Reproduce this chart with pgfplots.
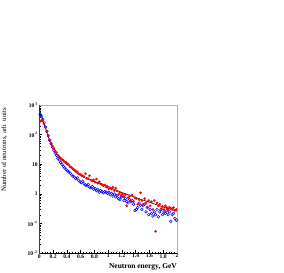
\documentclass[border=0pt]{standalone}
\usepackage{fontspec}
\setmainfont{Liberation Serif}
\usepackage{pgfplots}
\pgfplotsset{compat=1.18}
\begin{document}
\begin{tikzpicture}
\begin{axis}[
  scale only axis,
  width=137.7bp, height=148.3bp,
  ymode=log,
  xmin=0, xmax=2, ymin=0.01, ymax=1000,
  xtick={0,0.2,0.4,0.6,0.8,1,1.2,1.4,1.6,1.8,2},
  xticklabels={0,0.2,0.4,0.6,0.8,1,1.2,1.4,1.6,1.8,2},
  ytick={0.01,0.1,1,10,100,1000},
  yticklabels={10\textsuperscript{\,-2},10\textsuperscript{\,-1},1,10,10\textsuperscript{\,2},10\textsuperscript{\,3}},
  minor x tick num=4,
  tick align=inside,
  xtick pos=bottom, ytick pos=left,
  major tick length=3bp, minor tick length=1.5bp,
  tick style={black, line width=0.4bp},
  axis line style={gray!60, line width=0.9bp},
  ticklabel style={font=\fontsize{5.6}{6.5}\selectfont\bfseries},
  xticklabel style={inner sep=0.8bp},
  yticklabel style={inner sep=1.5bp},
  clip=true,
]
\addplot[only marks, mark=o, mark size=1.35bp, draw=blue, line width=0.5bp] coordinates {
(0.01,480)(0.03,420)(0.05,330)(0.07,250)(0.09,180)(0.11,130)(0.13,92)(0.15,65)(0.17,50)(0.19,38)
(0.21,30)(0.23,24)(0.25,20)(0.27,16)(0.29,14)(0.31,11.5)(0.33,10)(0.35,8.5)(0.37,7.6)(0.39,6.6)
(0.41,6.0)(0.43,5.5)(0.45,5.0)(0.47,4.4)(0.49,4.0)(0.51,3.7)(0.53,3.3)(0.55,3.5)(0.57,2.9)(0.59,2.6)
(0.61,2.4)(0.63,2.7)(0.65,2.2)(0.67,2.0)(0.69,1.9)(0.71,2.1)(0.73,1.7)(0.75,1.6)(0.77,1.8)(0.79,1.45)
(0.81,1.55)(0.83,1.3)(0.85,1.4)(0.87,1.15)(0.89,1.3)(0.91,1.2)(0.93,1.1)(0.95,1.2)(0.97,1.15)(0.99,1.05)
(1.01,1.15)(1.03,0.95)(1.05,1.05)(1.07,0.85)(1.09,1.0)(1.11,0.8)(1.13,0.9)(1.15,0.7)(1.17,0.65)(1.19,0.8)
(1.21,0.85)(1.23,0.6)(1.25,0.7)(1.27,0.55)(1.29,0.5)(1.31,0.65)(1.33,0.55)(1.35,0.6)(1.37,0.45)(1.39,0.28)
(1.41,0.3)(1.43,0.35)(1.45,0.5)(1.47,0.42)(1.49,0.3)(1.51,0.4)(1.53,0.45)(1.55,0.25)(1.57,0.35)(1.59,0.2)
(1.61,0.3)(1.63,0.22)(1.65,0.18)(1.67,0.25)(1.69,0.2)(1.71,0.3)(1.73,0.17)(1.75,0.25)(1.77,0.3)(1.79,0.2)
(1.81,0.25)(1.83,0.22)(1.85,0.27)(1.87,0.2)(1.89,0.25)(1.91,0.12)(1.93,0.2)(1.95,0.22)(1.97,0.15)(1.99,0.13)
};
\addplot[only marks, mark=*, mark size=1.1bp, color=red] coordinates {
(0.01,280)(0.03,300)(0.05,290)(0.07,230)(0.09,170)(0.11,125)(0.13,90)(0.15,68)(0.17,52)(0.19,42)
(0.21,35)(0.23,28)(0.25,25)(0.27,20)(0.29,18)(0.31,16)(0.33,14.5)(0.35,13.5)(0.37,12)(0.39,11.5)
(0.41,10.5)(0.43,9.5)(0.45,8.3)(0.47,7.8)(0.49,6.9)(0.51,6.5)(0.53,5.8)(0.55,5.6)(0.57,4.8)(0.59,4.7)
(0.61,4.3)(0.63,4.1)(0.65,3.8)(0.67,4.8)(0.69,3.4)(0.71,3.3)(0.73,4.1)(0.75,2.9)(0.77,2.8)(0.79,3.0)
(0.81,2.5)(0.83,3.2)(0.85,2.3)(0.87,2.6)(0.89,2.2)(0.91,2.1)(0.93,1.9)(0.95,2.0)(0.97,1.7)(0.99,1.8)
(1.01,1.5)(1.03,1.6)(1.05,1.45)(1.07,1.7)(1.09,1.3)(1.11,1.6)(1.13,1.25)(1.15,0.95)(1.17,1.1)(1.19,0.9)
(1.21,1.0)(1.23,0.8)(1.25,0.95)(1.27,0.4)(1.29,0.75)(1.31,0.85)(1.33,0.6)(1.35,0.9)(1.37,0.55)(1.39,0.75)
(1.41,0.7)(1.43,0.45)(1.45,0.65)(1.47,1.1)(1.49,0.6)(1.51,0.45)(1.53,0.7)(1.55,0.5)(1.57,0.35)(1.59,0.6)
(1.61,0.4)(1.63,0.55)(1.65,0.3)(1.67,0.6)(1.69,0.055)(1.71,0.5)(1.73,0.4)(1.75,0.45)(1.77,0.32)(1.79,0.38)
(1.81,0.3)(1.83,0.4)(1.85,0.35)(1.87,0.3)(1.89,0.36)(1.91,0.33)(1.93,0.3)(1.95,0.35)(1.97,0.28)(1.99,0.3)
};
\addplot[black, line width=0.6bp, smooth] coordinates {
(0,794)(0.02,550)(0.04,380)(0.06,269)(0.08,195)(0.10,141)(0.12,100)(0.15,64.6)(0.20,36.3)(0.25,22.9)
(0.30,15.8)(0.35,12.6)(0.40,10.0)(0.45,7.9)(0.50,6.3)(0.60,4.17)(0.70,3.2)(0.80,2.6)(0.90,2.14)(1.00,1.8)
(1.10,1.41)(1.20,1.12)(1.30,0.92)(1.40,0.76)(1.50,0.63)(1.60,0.525)(1.70,0.437)(1.80,0.363)(1.90,0.309)(2.00,0.26)
};
\draw[black, line width=0.5bp] (rel axis cs:0,1) -- (rel axis cs:0,0) -- (rel axis cs:1,0);
\end{axis}
\node[rotate=90, anchor=south east, inner sep=0pt, font=\fontsize{6.8}{8}\selectfont] at (-32bp,145.5bp) {Number of neutrons, arb. units};
\node[anchor=north east, inner sep=0pt, font=\fontsize{7.5}{9}\selectfont\bfseries] at (137.7bp,-10.5bp) {Neutron energy, GeV};
\pgfresetboundingbox
\path (-39.3bp,-19.7bp) rectangle (244.7bp,253.3bp);
\end{tikzpicture}
\end{document}
